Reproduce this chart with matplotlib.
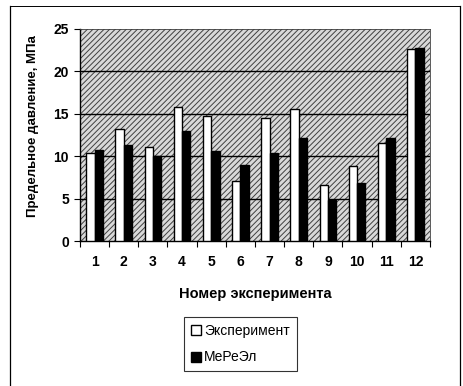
import numpy as np
import matplotlib
matplotlib.use('Agg')
import matplotlib.pyplot as plt
from matplotlib.patches import Rectangle

# Chart data:
experiments = [str(i) for i in range(1, 13)]
experiment_vals = [10.4, 13.2, 11.1, 15.8, 14.7, 7.1, 14.5, 15.6, 6.6, 8.9, 11.6, 22.6]
mereel_vals = [10.7, 11.3, 10.0, 13.0, 10.6, 9.0, 10.4, 12.1, 4.8, 6.8, 12.1, 22.8]
y_ticks = [0, 5, 10, 15, 20, 25]

plt.rcParams['font.family'] = ['Liberation Sans', 'DejaVu Sans']
plt.rcParams['hatch.linewidth'] = 0.7
plt.rcParams['hatch.color'] = '#404040'

fig = plt.figure(figsize=(4.64, 3.86), dpi=100)
ax = fig.add_axes([0.1724, 0.3756, 0.7543, 0.5493])

# Hatched plot-area background (scan look):
ax.set_facecolor('#d9d9d9')
bg = Rectangle((0, 0), 1, 1, transform=ax.transAxes, facecolor='#d9d9d9',
               edgecolor='#404040', hatch='//////', lw=0, zorder=0)
ax.add_patch(bg)

# Horizontal gridlines:
for yv in y_ticks[1:-1]:
    ax.axhline(yv, color='black', lw=1.0, zorder=1)

x = np.arange(1, len(experiments) + 1)
w = 0.286
ax.bar(x - w / 2, experiment_vals, width=w, color='white', edgecolor='black',
       lw=1.0, zorder=3, label='Эксперимент')
ax.bar(x + w / 2, mereel_vals, width=w, color='black', edgecolor='black',
       lw=1.0, zorder=3, label='МеРеЭл')

ax.set_xlim(0.5, 12.5)
ax.set_ylim(0, 25)
ax.set_yticks(y_ticks)
ax.set_xticks(x)
ax.set_xticklabels(experiments)
ax.set_xticks(np.arange(0.5, 13, 1), minor=True)
ax.tick_params(axis='x', which='major', length=0, pad=10, labelsize=10)
ax.tick_params(axis='x', which='minor', length=4, direction='out', width=0.8)
ax.tick_params(axis='y', length=4, direction='out', width=0.8, labelsize=10, pad=4)
for lab in ax.get_xticklabels() + ax.get_yticklabels():
    lab.set_fontweight('bold')

for s in ['left', 'bottom']:
    ax.spines[s].set_linewidth(1.0)
for s in ['top', 'right']:
    ax.spines[s].set_linewidth(0.6)
    ax.spines[s].set_color('#404040')

ax.set_xlabel('Номер эксперимента', fontsize=10.5, fontweight='bold', labelpad=13)
ax.set_ylabel('Предельное давление, МПа', fontsize=9.5, fontweight='bold')
ax.yaxis.set_label_coords(-0.118, 0.54)

leg = fig.legend(loc='upper left', bbox_to_anchor=(184 / 464, 1 - 317 / 386),
                 fontsize=10, frameon=True, fancybox=False, handlelength=0.75,
                 handleheight=0.75, handletextpad=0.2, labelspacing=0.9,
                 borderpad=0.5, borderaxespad=0)
leg.get_frame().set_edgecolor('black')
leg.get_frame().set_linewidth(0.8)

# Outer frame of the scanned figure:
fig.add_artist(plt.Line2D([10 / 464, 10 / 464], [0, 1 - 6 / 386], color='black', lw=0.9))
fig.add_artist(plt.Line2D([460 / 464, 460 / 464], [0, 1 - 6 / 386], color='black', lw=0.9))
fig.add_artist(plt.Line2D([10 / 464, 460 / 464], [1 - 6 / 386, 1 - 6 / 386], color='black', lw=0.7))

fig.savefig('out.png', dpi=100)
